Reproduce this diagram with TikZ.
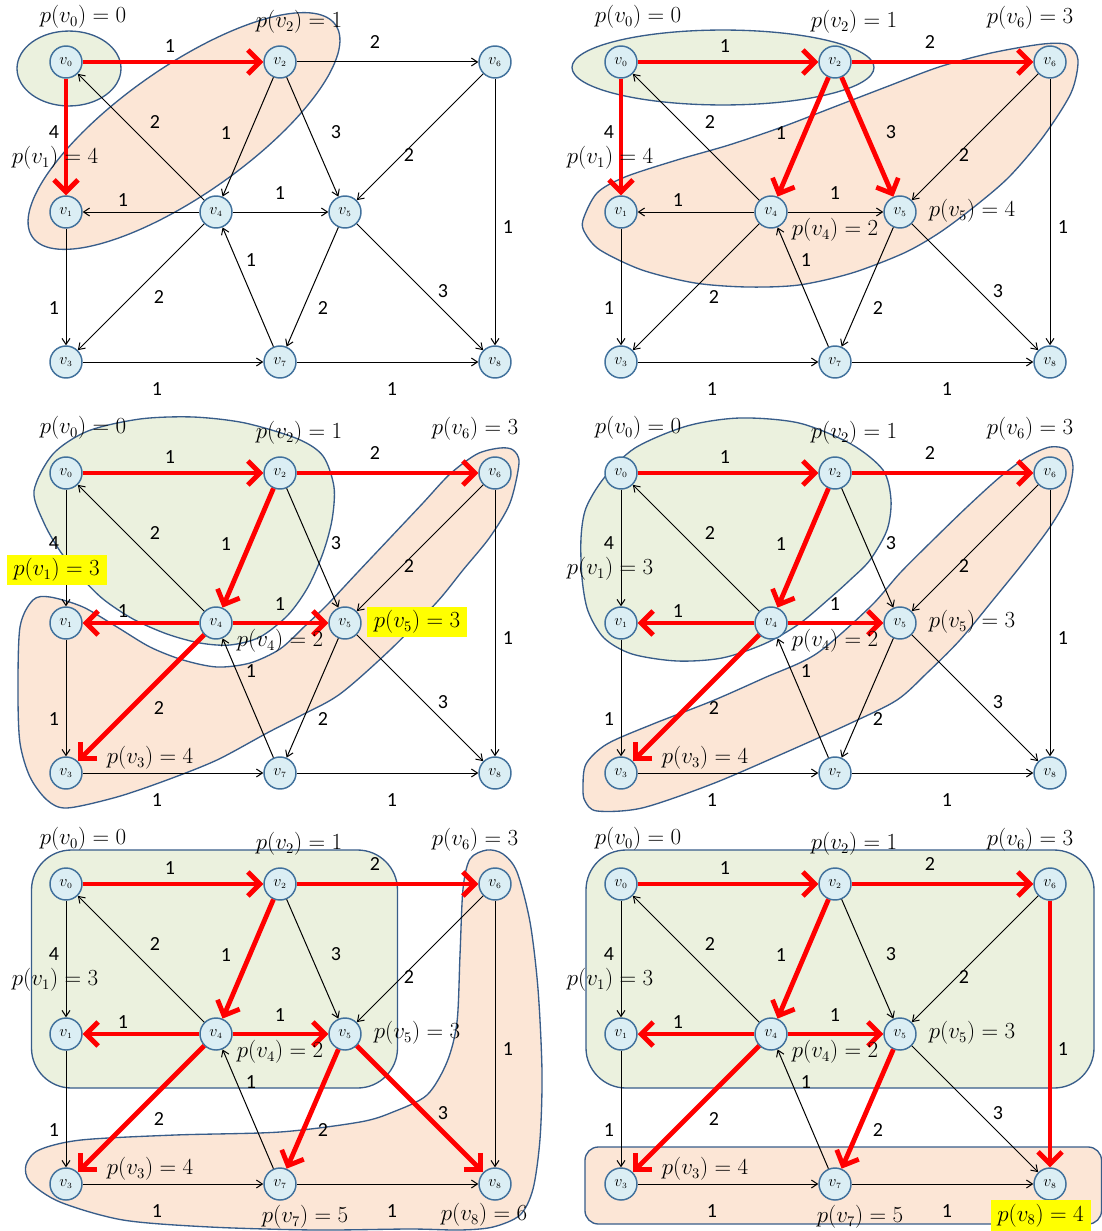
\documentclass[tikz,border=0pt]{standalone}
\usepackage{fontspec}
\newfontfamily\wfont{Carlito}
\usetikzlibrary{arrows.meta}
\definecolor{nodefill}{RGB}{219,238,244}
\definecolor{nodeedge}{RGB}{65,113,156}
\definecolor{blobgreen}{RGB}{235,241,222}
\definecolor{bloborange}{RGB}{252,230,214}
\definecolor{blobedge}{RGB}{56,93,138}
\definecolor{hlyellow}{RGB}{255,255,0}
\tikzset{
  vtx/.style={circle, draw=nodeedge, fill=nodefill, line width=1.1pt, minimum size=24pt, inner sep=0pt, font=\fontsize{12}{12}\selectfont},
  bk/.style={draw=black, line width=0.75pt, -{Straight Barb[length=4.5pt,width=6pt]}},
  rd/.style={draw=red, line width=3.6pt, -{Straight Barb[length=9pt,width=18pt]}},
  wt/.style={font=\wfont\fontsize{15}{15}\selectfont, inner sep=0pt},
  pl/.style={font=\fontsize{16}{16}\selectfont, inner sep=0pt},
  hl/.style={pl, fill=hlyellow, minimum width=75pt, minimum height=23pt},
  bg/.style={draw=blobedge, fill=blobgreen, line width=1pt},
  bo/.style={draw=blobedge, fill=bloborange, line width=1pt},
}
\newcommand\Vnodes{%
  \node[vtx] (v0) at (66,62) {$v_{\scriptscriptstyle 0}$};
  \node[vtx] (v2) at (280,62) {$v_{\scriptscriptstyle 2}$};
  \node[vtx] (v6) at (495,62) {$v_{\scriptscriptstyle 6}$};
  \node[vtx] (v1) at (66,212) {$v_{\scriptscriptstyle 1}$};
  \node[vtx] (v4) at (216,212) {$v_{\scriptscriptstyle 4}$};
  \node[vtx] (v5) at (345,212) {$v_{\scriptscriptstyle 5}$};
  \node[vtx] (v3) at (66,362) {$v_{\scriptscriptstyle 3}$};
  \node[vtx] (v7) at (280,362) {$v_{\scriptscriptstyle 7}$};
  \node[vtx] (v8) at (495,362) {$v_{\scriptscriptstyle 8}$};
}
\newcommand\Wlabels{%
  \node[wt] (w02) at (170,46) {1};
  \node[wt] (w01) at (54,132) {4};
  \node[wt] (w26) at (375,42) {2};
  \node[wt] (w40) at (155,122) {2};
  \node[wt] (w24) at (226,133) {1};
  \node[wt] (w25) at (336,132) {3};
  \node[wt] (w65) at (409,155) {2};
  \node[wt] (w68) at (508,227) {1};
  \node[wt] (w41) at (123,200) {1};
  \node[wt] (w45) at (280,193) {1};
  \node[wt] (w74) at (251,260) {1};
  \node[wt] (w43) at (159,297) {2};
  \node[wt] (w57) at (323,308) {2};
  \node[wt] (w58) at (443,291) {3};
  \node[wt] (w13) at (54,308) {1};
  \node[wt] (w37) at (157,389) {1};
  \node[wt] (w78) at (392,389) {1};
}
\newcommand\Bedges[1]{\foreach \a/\b in {#1} {\draw[bk] (v\a) -- (v\b);}}
\newcommand\Redges[1]{\foreach \a/\b in {#1} {\draw[rd] (v\a) -- (v\b);}}
\newcommand\PL[4]{\node[#1] (p#2) at (#3) {$p(v_{#2}) = #4$};}
\begin{document}
\begin{tikzpicture}[x=0.75pt, y=-0.75pt]
\fill[white] (0,0) rectangle (1102,1231);
\useasboundingbox (0,0) rectangle (1102,1231);

% ---------------- panel 1 ----------------
\begin{scope}[name prefix=A-]
  \draw[bo, rotate around={35:(184,131)}] (184,131) ellipse [x radius=138.75pt, y radius=48pt];
  \draw[bg] (69,68.5) ellipse [x radius=39pt, y radius=28.1pt];
  \Vnodes
  \Bedges{2/6,2/4,2/5,4/0,4/1,4/5,4/3,6/5,6/8,1/3,3/7,7/4,5/7,5/8,7/8}
  \Redges{0/2,0/1}
  \Wlabels
  \PL{pl}{0}{83,17}{0}
  \PL{pl}{2}{299,22}{1}
  \PL{pl}{1}{55,158}{4}
\end{scope}

% ---------------- panel 2 ----------------
\begin{scope}[shift={(555,0)}, name prefix=B-]
  \draw[bo] plot[smooth cycle] coordinates {(28,220) (42,193) (70,177) (122,160) (174,145) (227,127) (279,107) (331,87) (384,67) (436,53) (488,44) (513,45) (523,60) (516,93) (488,137) (454,177) (419,207) (384,233) (349,253) (297,273) (244,285) (192,287) (140,283) (87,270) (45,250) (30,233)};
  \draw[bg] (168,67.5) ellipse [x radius=113.25pt, y radius=28.1pt];
  \Vnodes
  \Bedges{4/0,4/1,4/5,4/3,6/5,6/8,1/3,3/7,7/4,5/7,5/8,7/8}
  \Redges{0/2,0/1,2/6,2/4,2/5}
  \Wlabels
  \PL{pl}{0}{83,17}{0}
  \PL{pl}{2}{299,22}{1}
  \PL{pl}{6}{475,18}{3}
  \PL{pl}{1}{55,158}{4}
  \PL{pl}{5}{417,211}{4}
  \PL{pl}{4}{280,230}{2}
\end{scope}

% ---------------- panel 3 ----------------
\begin{scope}[shift={(0,411)}, name prefix=C-]
  \draw[bo] plot[smooth cycle] coordinates {(20,216) (33,189) (50,186) (83,196) (117,216) (150,236) (183,249) (217,256) (250,252) (280,238) (305,215) (327,194) (357,162) (390,127) (423,92) (450,63) (477,43) (500,37) (513,39) (519,52) (510,92) (490,126) (463,159) (437,191) (390,239) (340,283) (300,305) (267,322) (217,349) (167,369) (117,386) (67,397) (47,389) (30,366) (20,332) (18,282)};
  \draw[bg] plot[smooth cycle] coordinates {(34,80) (53,43) (88,20) (140,8) (193,6) (245,12) (298,28) (323,45) (334,76) (332,109) (323,142) (308,176) (288,204) (260,226) (230,234) (200,232) (167,223) (133,208) (103,188) (80,165) (60,140) (44,112)};
  \Vnodes
  \Bedges{0/1,2/5,4/0,6/5,6/8,1/3,3/7,7/4,5/7,5/8,7/8}
  \Redges{0/2,2/6,2/4,4/1,4/5,4/3}
  \Wlabels
  \PL{pl}{0}{83,17}{0}
  \PL{pl}{2}{299,22}{1}
  \PL{pl}{6}{475,18}{3}
  \PL{hl}{1}{56.5,159}{3}
  \PL{hl}{5}{417,211}{3}
  \PL{pl}{4}{280,230}{2}
  \PL{pl}{3}{150,347}{4}
\end{scope}

% ---------------- panel 4 ----------------
\begin{scope}[shift={(555,411)}, name prefix=D-]
  \draw[bo] plot[smooth cycle] coordinates {(28,377) (31,353) (52,333) (98,313) (157,290) (209,267) (261,243) (315,196) (345,162) (378,129) (412,96) (445,66) (472,46) (495,36) (512,39) (518,56) (512,86) (495,116) (468,152) (438,189) (405,229) (372,262) (342,289) (296,312) (227,343) (157,373) (87,397) (42,400) (30,390)};
  \draw[bg] plot[smooth cycle] coordinates {(26,127) (31,97) (49,67) (80,37) (132,15) (185,7) (244,12) (296,33) (328,59) (336,89) (332,119) (315,149) (295,169) (275,187) (244,213) (209,233) (167,247) (122,250) (77,243) (49,227) (33,200) (27,167)};
  \Vnodes
  \Bedges{0/1,2/5,4/0,6/5,6/8,1/3,3/7,7/4,5/7,5/8,7/8}
  \Redges{0/2,2/6,2/4,4/1,4/5,4/3}
  \Wlabels
  \PL{pl}{0}{83,17}{0}
  \PL{pl}{2}{299,22}{1}
  \PL{pl}{6}{475,18}{3}
  \PL{pl}{1}{55,158}{3}
  \PL{pl}{5}{417,211}{3}
  \PL{pl}{4}{280,230}{2}
  \PL{pl}{3}{150,347}{4}
\end{scope}

% ---------------- panel 5 ----------------
\begin{scope}[shift={(0,822)}, name prefix=E-]
  \draw[bo] plot[smooth cycle] coordinates {(470,37) (487,28) (503,32) (517,50) (530,100) (538,167) (542,250) (540,317) (533,367) (520,393) (493,405) (460,408) (410,407) (315,408) (210,405) (123,398) (60,380) (30,360) (26,343) (39,328) (81,318) (175,313) (280,310) (360,300) (393,290) (427,273) (447,240) (457,200) (460,133) (463,67)};
  \draw[bg, rounded corners=30pt] (31.5,28) rectangle (397.5,266);
  \Vnodes
  \Bedges{0/1,2/5,4/0,6/5,6/8,1/3,3/7,7/4,7/8}
  \Redges{0/2,2/6,2/4,4/1,4/5,4/3,5/7,5/8}
  \Wlabels
  \PL{pl}{0}{83,17}{0}
  \PL{pl}{2}{299,22}{1}
  \PL{pl}{6}{475,18}{3}
  \PL{pl}{1}{55,158}{3}
  \PL{pl}{5}{417,211}{3}
  \PL{pl}{4}{280,230}{2}
  \PL{pl}{3}{150,347}{4}
  \PL{pl}{7}{305,395}{5}
  \PL{pl}{8}{484,393}{6}
\end{scope}

% ---------------- panel 6 ----------------
\begin{scope}[shift={(555,822)}, name prefix=F-]
  \draw[bo, rounded corners=10pt] (30,325) rectangle (546.5,402);
  \draw[bg, rounded corners=30pt] (31,28) rectangle (539,266);
  \Vnodes
  \Bedges{0/1,2/5,4/0,6/5,1/3,3/7,7/4,5/8,7/8}
  \Redges{0/2,2/6,2/4,4/1,4/5,4/3,5/7,6/8}
  \Wlabels
  \PL{pl}{0}{83,17}{0}
  \PL{pl}{2}{299,22}{1}
  \PL{pl}{6}{475,18}{3}
  \PL{pl}{1}{55,158}{3}
  \PL{pl}{5}{417,211}{3}
  \PL{pl}{4}{280,230}{2}
  \PL{pl}{3}{150,347}{4}
  \PL{pl}{7}{305,395}{5}
  \PL{hl}{8}{485.5,393.5}{4}
\end{scope}
\end{tikzpicture}
\end{document}
